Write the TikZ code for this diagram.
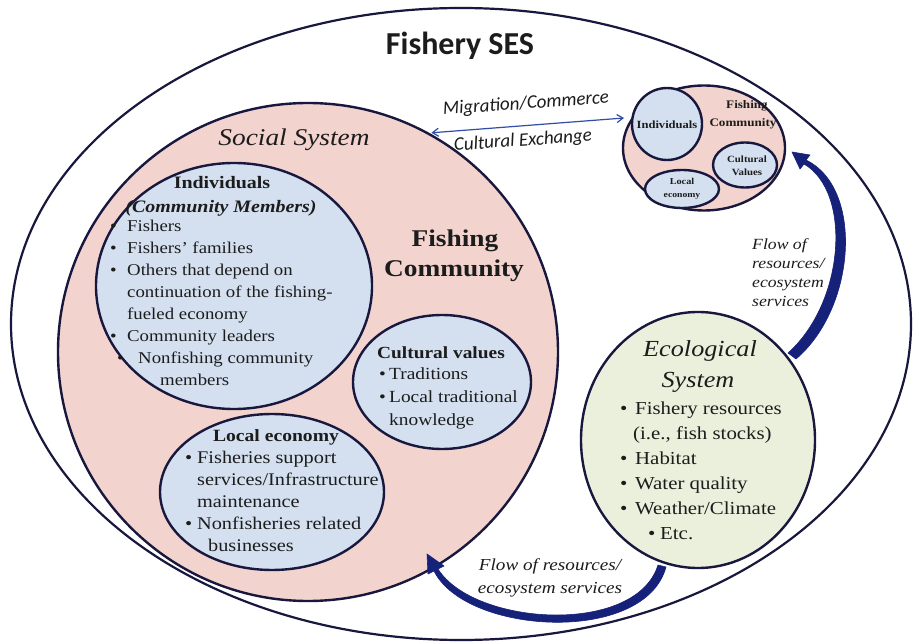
\documentclass[tikz,border=0pt]{standalone}
\usepackage{fontspec}
\setmainfont{Liberation Serif}[FakeStretch=1.14]
\newfontfamily\calib{Carlito}
\usetikzlibrary{arrows.meta,calc,shapes.geometric}
\definecolor{pinkf}{RGB}{242,211,206}
\definecolor{bluef}{RGB}{212,224,240}
\definecolor{greenf}{RGB}{235,240,221}
\definecolor{edgec}{RGB}{24,24,62}
\definecolor{navyc}{RGB}{22,34,122}
\definecolor{linkc}{RGB}{48,78,168}
\definecolor{txt}{RGB}{28,28,28}
\newcommand\bl[1]{\makebox[#1][l]{\textbullet}}
\newcommand\fs[2]{\fontsize{#1}{#2}\selectfont}
\begin{document}
\begin{tikzpicture}[x=1pt,y=-1pt,
  oval/.style={ellipse,draw=edgec,line width=2.4pt,inner sep=0pt},
  lbl/.style={inner sep=0pt,text=txt,anchor=base},
  lst/.style={inner sep=0pt,text=txt,anchor=base west},
  bigarrow/.style={fill=navyc,draw=navyc,line width=0.6pt,line join=round}]
\useasboundingbox (0,0) rectangle (916,644);
\fill[white] (0,0) rectangle (916,644);
% outer SES ellipse
\node[ellipse,draw=edgec,line width=2.2pt,inner sep=0pt,minimum width=900pt,minimum height=632pt] (ses) at (461,324) {};
\node[lbl,font={\calib\bfseries\fs{32}{36}}] (title) at (460,55) {Fishery SES};
% social system
\node[oval,fill=pinkf,minimum width=500pt,minimum height=498pt] (social) at (308,352) {};
\node[oval,fill=bluef,minimum width=276pt,minimum height=246pt] (indiv) at (234,286) {};
\node[oval,fill=bluef,minimum width=178pt,minimum height=134pt] (cult) at (442,382) {};
\node[oval,fill=bluef,minimum width=224pt,minimum height=156pt] (econ) at (272,492) {};
% small fishing community
\node[oval,fill=pinkf,minimum width=162pt,minimum height=125pt] (smallc) at (704,148) {};
\node[oval,fill=bluef,minimum width=70pt,minimum height=72pt] (sind) at (667,124) {};
\node[oval,fill=bluef,minimum width=64pt,minimum height=45pt] (scult) at (745,165) {};
\node[oval,fill=bluef,minimum width=74pt,minimum height=38pt] (secon) at (682,189) {};
% big flow arrows (drawn under the ecological system)
\coordinate (b0) at (662,566);
\coordinate (b1) at (436,570);
\fill[bigarrow] ($(b0)+(4,1)$) .. controls (645,645) and (466,635) .. ($(b1)+(-2,1)$)
  -- (428,574) -- (427,554) -- (444,566) -- ($(b1)+(2,-1)$)
  .. controls (474,626) and (636,636) .. ($(b0)+(-4,-1)$) -- cycle;
\coordinate (r0) at (792,356);
\coordinate (r1) at (805,162);
\fill[bigarrow] ($(r0)+(4,3)$) .. controls (856,308) and (864,188) .. ($(r1)+(1,-2)$)
  -- (810,155) -- (792,152) -- (800,169) -- ($(r1)+(-1,2)$)
  .. controls (852,192) and (845,302) .. ($(r0)+(-4,-3)$) -- cycle;
% ecological system
\node[oval,fill=greenf,minimum width=234pt,minimum height=256pt] (eco) at (698,440) {};
% migration link
\coordinate (mR) at (624,118);
\draw[linkc,line width=1.2pt,shorten <=2pt,{Straight Barb[length=6pt,width=8pt]}-{Straight Barb[length=6pt,width=8pt]}] (social.61) -- (mR);
\node[lbl,anchor=center,rotate=4,font={\calib\itshape\fs{19}{21}}] (mig) at (526,104) {Migration/Commerce};
\node[lbl,anchor=center,rotate=4,font={\calib\itshape\fs{19}{21}}] (cex) at (523,141) {Cultural Exchange};
% social texts
\node[lbl,font={\itshape\fs{24}{28}}] (soctitle) at (294,146) {Social System};
\node[lbl,font={\bfseries\fs{24}{28}}] (fc1) at (455,247) {Fishing};
\node[lbl,font={\bfseries\fs{24}{28}}] (fc2) at (454,277) {Community};
\node[lbl,font={\bfseries\fs{17.5}{20}}] (indh1) at (222,189) {Individuals};
\node[lbl,font={\bfseries\itshape\fs{17.5}{20}}] (indh2) at (221,213) {(Community Members)};
\foreach \dx/\t [count=\i] in {0/{\bl{17pt}Fishers},0/{\bl{17pt}Fishers' families},0/{\bl{17pt}Others that depend on},17/{continuation of the fishing-},17/{fueled economy},0/{\bl{17pt}Community leaders},7/{\bl{21pt}Nonfishing community},50/{members}}
  \node[lst,font={\fs{16.5}{20}}] (ind\i) at (110+\dx,210.1+21.9*\i) {\t};
\node[lbl,font={\bfseries\fs{17}{20}}] (culth) at (441,359) {Cultural values};
\foreach \dx/\t [count=\i] in {0/{\bl{10pt}Traditions},0/{\bl{10pt}Local traditional},10/{knowledge}}
  \node[lst,font={\fs{17}{20}}] (cul\i) at (379+\dx,357.5+22.5*\i) {\t};
\node[lbl,font={\bfseries\fs{17.2}{20}}] (econh) at (276,441) {Local economy};
\foreach \dx/\t [count=\i] in {0/{\bl{12pt}Fisheries support},12/{services/Infrastructure},12/{maintenance},0/{\bl{12pt}Nonfisheries related},23/{businesses}}
  \node[lst,font={\fs{17.8}{20}}] (eco\i) at (185+\dx,440.8+22.2*\i) {\t};
% ecological texts
\node[lbl,font={\itshape\fs{23}{28}}] (ecoh1) at (700,356) {Ecological};
\node[lbl,font={\itshape\fs{23}{28}}] (ecoh2) at (698,388) {System};
\foreach \dx/\t [count=\i] in {0/{\bl{15pt}Fishery resources},13/{(i.e., fish stocks)},0/{\bl{15pt}Habitat},0/{\bl{15pt}Water quality},0/{\bl{15pt}Weather/Climate},28/{\bl{12pt}Etc.}}
  \node[lst,font={\fs{18.3}{22}}] (el\i) at (620+\dx,389+25*\i) {\t};
% small community texts
\node[lbl,font={\bfseries\fs{11.5}{15}}] (sfc1) at (747,109) {Fishing};
\node[lbl,font={\bfseries\fs{11.5}{15}}] (sfc2) at (743,127) {Community};
\node[lbl,font={\bfseries\fs{11}{13}}] (sindt) at (667,129) {Individuals};
\node[lbl,font={\bfseries\fs{9.5}{11}}] (sc1) at (747,163) {Cultural};
\node[lbl,font={\bfseries\fs{9.5}{11}}] (sc2) at (747,176) {Values};
\node[lbl,font={\bfseries\fs{9}{11}}] (se1) at (682,185) {Local};
\node[lbl,font={\bfseries\fs{8.5}{11}}] (se2) at (682,198) {economy};
% flow labels
\node[lbl,font={\itshape\fs{16.8}{20}}] (fl1) at (550,570) {Flow of resources/};
\node[lbl,font={\itshape\fs{16.8}{20}}] (fl2) at (550,593) {ecosystem services};
\foreach \t [count=\i] in {Flow of,resources/,ecosystem,services}
  \node[lst,font={\itshape\fs{15.5}{19}}] (fr\i) at (752,231+19*\i) {\t};
\end{tikzpicture}
\end{document}
